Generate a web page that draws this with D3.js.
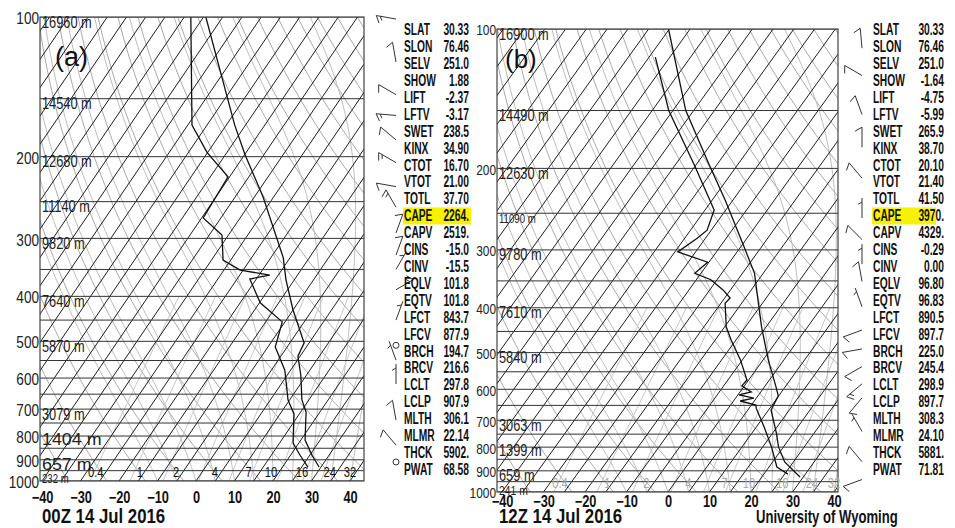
<!DOCTYPE html>
<html>
<head>
<meta charset="utf-8">
<script src="https://cdn.jsdelivr.net/npm/d3@7"></script>
<style>
body { margin: 0; background: #fff; }
text { font-family: "Liberation Sans", Arial, sans-serif; }
</style>
</head>
<body>
<svg id="chart" width="955" height="528"></svg>
<script>
var isobars = d3.range(100, 1001, 50);
var pLabels = [100, 200, 300, 400, 500, 600, 700, 800, 900, 1000];
var tLabels = [-40, -30, -20, -10, 0, 10, 20, 30, 40];
var mixRatios = [0.4, 1, 2, 4, 7, 10, 16, 24, 32];
var mixLabels = ["0.4", "1", "2", "4", "7", "10", "16", "24", "32"];
var hgtLevels = [100, 150, 200, 250, 300, 400, 500, 700, 850, 925, 1000];
var hgtA = ["16960 m", "14540 m", "12680 m", "11140 m", "9820 m", "7640 m", "5870 m", "3079 m", "1404 m", "657 m", "232 m"];
var hgtB = ["16900 m", "14490 m", "12630 m", "11090 m", "9780 m", "7610 m", "5840 m", "3063 m", "1399 m", "659 m", "241 m"];

// [pressure hPa, temperature C]
var tempA = [[100,-79.4],[130,-66.4],[171,-52.8],[198,-44.9],[244,-32.8],[330,-16.8],[369,-12.1],[428,-5.0],[504,3.7],[538,4.4],[591,8.5],[669,13.2],[710,16.4],[816,21.1],[879,25.5],[933,29.5]];
var dewA = [[100,-83.3],[171,-63.9],[196,-55.1],[221,-45.4],[271,-44.6],[295,-36.7],[334,-32.0],[351,-25.8],[360,-17.2],[367,-21.7],[413,-14.8],[454,-5.7],[514,-3.1],[577,3.5],[669,9.6],[717,13.6],[828,18.5],[879,22.4],[933,26.6]];
var tempB = [[100,-80.2],[150,-61.9],[197,-46.7],[234,-36.9],[296,-24.1],[337,-17.1],[440,-6.1],[519,1.3],[593,7.8],[620,9.9],[665,10.6],[746,15.9],[799,18.8],[861,22.9],[928,29.2]];
var dewB = [[115,-78.5],[150,-66],[197,-50.3],[246,-37.8],[272,-36],[283,-37],[303,-39.3],[319,-30.3],[337,-31.5],[348,-26.5],[366,-21.8],[381,-18.7],[391,-19],[440,-14.6],[470,-11.1],[519,-5.4],[573,-0.4],[590,-0.6],[608,2.7],[617,0.3],[627,4.4],[636,1.6],[649,6.1],[659,6.7],[724,11.9],[799,17.1],[883,21.9],[915,25.8]];

// [pressure, direction deg, speed kt]
var barbsA = [[101,280,15],[125,350,10],[147,300,10],[163,275,15],[184,310,10],[206,300,15],[232,280,10],[257,330,15],[292,20,10],[326,20,10],[350,30,5],[387,60,15],[450,20,5],[510,0,0],[549,340,5],[618,0,5],[739,350,10],[837,320,10],[910,0,0]];
var barbsB = [[110,355,10],[126,300,10],[153,340,10],[180,0,10],[210,320,10],[256,0,5],[285,315,10],[322,0,5],[351,350,10],[398,340,5],[447,250,10],[491,260,10],[536,240,10],[584,230,15],[626,220,10],[740,330,5],[860,320,10],[940,250,10]];

var idxNames = ["SLAT","SLON","SELV","SHOW","LIFT","LFTV","SWET","KINX","CTOT","VTOT","TOTL","CAPE","CAPV","CINS","CINV","EQLV","EQTV","LFCT","LFCV","BRCH","BRCV","LCLT","LCLP","MLTH","MLMR","THCK","PWAT"];
var valsA = ["30.33","76.46","251.0","1.88","-2.37","-3.17","238.5","34.90","16.70","21.00","37.70","2264.","2519.","-15.0","-15.5","101.8","101.8","843.7","877.9","194.7","216.6","297.8","907.9","306.1","22.14","5902.","68.58"];
var valsB = ["30.33","76.46","251.0","-1.64","-4.75","-5.99","265.9","38.70","20.10","21.40","41.50","3970.","4329.","-0.29","0.00","96.80","96.83","890.5","897.7","225.0","245.4","298.9","897.7","308.3","24.10","5881.","71.81"];

var svg = d3.select("#chart");

// condensed text: no narrow font installed, so squeeze horizontally
function ctext(parent, x, y, s, size, sx) {
  return parent.append("text")
    .attr("transform", "translate(" + x + "," + y + ") scale(" + sx + ",1)")
    .attr("font-size", size).attr("dominant-baseline", "central").attr("fill", "#111").text(s);
}

// thermodynamics for the background lines
function es(tc) { return 6.112 * Math.exp(17.67 * tc / (tc + 243.5)); }
function dewFromMix(w, p) {
  var e = w * p / (622 + w);
  var l = Math.log(e / 6.112);
  return 243.5 * l / (17.67 - l);
}
function moistLine(t0) {
  var Rd = 287.04, Cp = 1005.7, Lv = 2.501e6, eps = 0.622;
  var slope = function(T, p) {
    var e = es(T - 273.15), rs = eps * e / (p - e);
    return (Rd * T + Lv * rs) / (Cp + Lv * Lv * rs * eps / (Rd * T * T)) / p;
  };
  var T = t0 + 273.15, out = [[1000, t0]];
  for (var p = 1000; p > 100; p -= 5) {
    var k1 = slope(T, p), k2 = slope(T - 5 * k1, p - 5);
    T -= 5 * (k1 + k2) / 2;
    out.push([p - 5, T - 273.15]);
  }
  return out;
}

function drawPanel(cfg, temp, dew, hgt, barbs, vals) {
  var xs = d3.scaleLinear().domain([-40, 40]).range([cfg.xa, cfg.xb]);
  var ys = d3.scaleLog().domain([100, 1000]).range([cfg.top, cfg.bottom]);
  var X = function(T, p) { return xs(T) + (cfg.bottom - ys(p)) * cfg.k; };
  var line = d3.line().x(function(d) { return X(d[1], d[0]); }).y(function(d) { return ys(d[0]); });

  svg.append("clipPath").attr("id", "clip" + cfg.id).append("rect")
    .attr("x", cfg.left).attr("y", cfg.top)
    .attr("width", cfg.right - cfg.left).attr("height", cfg.bottom - cfg.top);
  var g = svg.append("g");
  var plot = g.append("g").attr("clip-path", "url(#clip" + cfg.id + ")");

  // dry adiabats
  d3.range(230, 481, 10).forEach(function(th) {
    var pts = d3.range(1000, 99, -10).map(function(p) { return [p, th * Math.pow(p / 1000, 0.2857) - 273.15]; });
    plot.append("path").attr("d", line(pts)).attr("fill", "none").attr("stroke", "#aaa").attr("stroke-width", 1);
  });
  // moist adiabats
  d3.range(-10, 46, 5).forEach(function(t0) {
    plot.append("path").attr("d", line(moistLine(t0))).attr("fill", "none").attr("stroke", "#bdbdbd").attr("stroke-width", 1);
  });
  // mixing ratio lines
  mixRatios.forEach(function(w) {
    var pts = d3.range(1000, 399, -20).map(function(p) { return [p, dewFromMix(w, p)]; });
    plot.append("path").attr("d", line(pts)).attr("fill", "none").attr("stroke", "#c8c8c8").attr("stroke-width", 1);
  });
  // isotherms
  d3.range(-160, 51, 5).forEach(function(t) {
    plot.append("path").attr("d", line([[1000, t], [100, t]])).attr("fill", "none").attr("stroke", "#1e1e1e").attr("stroke-width", 1);
  });
  // isobars
  plot.selectAll("line.iso").data(isobars).enter().append("line")
    .attr("x1", cfg.left).attr("x2", cfg.right)
    .attr("y1", function(d) { return ys(d); }).attr("y2", function(d) { return ys(d); })
    .attr("stroke", "#333").attr("stroke-width", 1);
  g.append("rect").attr("x", cfg.left).attr("y", cfg.top)
    .attr("width", cfg.right - cfg.left).attr("height", cfg.bottom - cfg.top)
    .attr("fill", "none").attr("stroke", "#444").attr("stroke-width", 1.2);

  // profiles
  [temp, dew].forEach(function(s) {
    plot.append("path").attr("d", line(s)).attr("fill", "none").attr("stroke", "#111").attr("stroke-width", 1.3);
  });

  // mixing ratio labels
  mixRatios.forEach(function(w, i) {
    var td = dewFromMix(w, 1000);
    var tl = td + 1.5 + 0.1 * (td + 27.5);
    ctext(g, xs(tl), cfg.bottom - 8, mixLabels[i], 14, 0.8)
      .attr("text-anchor", "middle").attr("fill", cfg.mixColor);
  });

  // height labels
  hgt.forEach(function(s, i) {
    var p = hgtLevels[i];
    var dy = p === 850 ? -9 : (p === 925 ? -1 : (p === 1000 ? -2 : 5));
    var fs = cfg.hgtSize(i);
    ctext(g, cfg.left + 2, ys(p) + dy, s, fs.size, fs.sx).attr("fill", "#222");
  });

  // axes
  var ya = g.append("g").attr("transform", "translate(" + (cfg.left - 1) + ",0)")
    .call(d3.axisLeft(ys).tickValues(pLabels).tickSize(0).tickPadding(0).tickFormat(d3.format("d")));
  ya.select(".domain").remove();
  ya.selectAll("text").attr("font-size", cfg.pSize).attr("fill", "#222")
    .style("font-family", null).attr("dy", "0.35em").attr("y", 1)
    .attr("transform", "scale(0.85,1)");
  var xa = g.append("g").attr("transform", "translate(0," + cfg.tY + ")")
    .call(d3.axisBottom(xs).tickValues(tLabels).tickSize(0).tickPadding(0));
  xa.select(".domain").remove();
  xa.selectAll("text").attr("font-size", 16).attr("font-weight", "bold").attr("fill", "#111")
    .style("font-family", null).attr("dy", "0.35em").attr("y", 0)
    .attr("transform", "scale(0.8,1)");

  g.append("text").attr("x", cfg.tagX).attr("y", cfg.tagY)
    .attr("font-size", cfg.tagSize).attr("fill", "#111").text(cfg.tag);
  ctext(g, cfg.left + 2, 516, cfg.date, 20, 0.84).attr("font-weight", "bold");

  // wind barbs
  barbs.forEach(function(b) {
    var bx = cfg.barbX, by = ys(b[0]);
    if (b[2] === 0) {
      g.append("circle").attr("cx", bx).attr("cy", by).attr("r", 3).attr("fill", "none").attr("stroke", "#333");
      return;
    }
    var a = b[1] * Math.PI / 180, ux = Math.sin(a), uy = -Math.cos(a);
    var L = 20, tx = bx + ux * L, ty = by + uy * L;
    var path = "M" + bx + "," + by + "L" + tx + "," + ty;
    var bxv = Math.cos(a + Math.PI / 3 + Math.PI / 2), byv = Math.sin(a + Math.PI / 3 + Math.PI / 2);
    var spd = b[2], pos = 0;
    while (spd >= 10) {
      var sx = tx - ux * pos, sy = ty - uy * pos;
      path += "M" + sx + "," + sy + "l" + (bxv * 8) + "," + (byv * 8);
      spd -= 10; pos += 4;
    }
    if (spd >= 5) {
      if (pos === 0) pos = 4;
      var hx = tx - ux * pos, hy = ty - uy * pos;
      path += "M" + hx + "," + hy + "l" + (bxv * 4.5) + "," + (byv * 4.5);
    }
    g.append("path").attr("d", path).attr("fill", "none").attr("stroke", "#333").attr("stroke-width", 1);
  });

  // station indices
  var rowY = d3.scaleLinear().domain([0, idxNames.length - 1]).range([30, 469.5]);
  var ci = idxNames.indexOf("CAPE");
  g.append("rect").attr("x", cfg.hlX).attr("y", rowY(ci) - 8.5).attr("width", cfg.hlW).attr("height", 17).attr("fill", "#f7f200");
  idxNames.forEach(function(n, i) {
    ctext(g, cfg.tblX, rowY(i), n, 16, 0.64).attr("font-weight", "bold");
    ctext(g, cfg.valX, rowY(i), vals[i], 16, 0.64).attr("font-weight", "bold").attr("text-anchor", "end");
  });
}

drawPanel({ id: "a", left: 40, right: 364, top: 17, bottom: 481, xa: 42, xb: 350, k: 0.68,
  tag: "(a)", tagX: 55, tagY: 66, tagSize: 27, date: "00Z 14 Jul 2016", tY: 497, pSize: 16, mixColor: "#111",
  barbX: 396, tblX: 404, valX: 469, hlX: 403, hlW: 68,
  hgtSize: function(i) { return i === 8 || i === 9 ? { size: 17, sx: 1.05 } : { size: i === 10 ? 12 : 16, sx: 0.8 }; } },
  tempA, dewA, hgtA, barbsA, valsA);

drawPanel({ id: "b", left: 497, right: 838, top: 29, bottom: 492, xa: 502, xb: 834, k: 0.72,
  tag: "(b)", tagX: 505, tagY: 68, tagSize: 26, date: "12Z 14 Jul 2016", tY: 501, pSize: 14, mixColor: "#aaa",
  barbX: 862, tblX: 873, valX: 944, hlX: 872, hlW: 64,
  hgtSize: function(i) { return { size: i === 3 ? 12 : (i === 10 ? 13 : 16), sx: 0.8 }; } },
  tempB, dewB, hgtB, barbsB, valsB);

ctext(svg, 756, 516, "University of Wyoming", 19, 0.69).attr("font-weight", "bold");
</script>
</body>
</html>
